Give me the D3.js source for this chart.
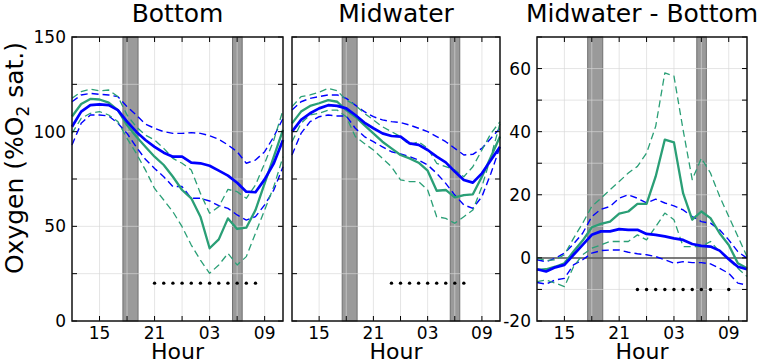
<!DOCTYPE html>
<html>
<head>
<meta charset="utf-8">
<script src="https://cdn.jsdelivr.net/npm/d3@7"></script>
<style>
  body { margin: 0; background: #fff; }
  svg { font-family: "DejaVu Sans", sans-serif; }
</style>
</head>
<body>
<svg id="chart" width="765" height="362"></svg>
<script>
// hours of the day, 12:00 to 11:00 next day (24+ = after midnight)
const hours = d3.range(12, 36);
const xTickHours = [15, 21, 27, 33];
const xTickLabels = ["15", "21", "03", "09"];
const twilight = [[17.55, 19.2], [29.5, 30.55]];

// Bottom
const bottomBlue      = [102.6,110.6,114,114.4,114,111.4,105.3,100,95.6,92,88.9,86.8,86.8,83.6,83.3,82,79.4,76.8,73,68.3,68,74.8,83.3,95.6];
const bottomBlueHi    = [115.8,119.4,120.2,119.7,119.4,118.5,113.2,108.8,104,101.8,100,99.1,99.1,99.5,99.1,97.9,96,93,89.4,83.3,85,89.4,97.4,107];
const bottomBlueLo    = [93,104.4,108.8,108.8,108.3,104.4,99.1,92,85.4,80.6,76.2,71,71,64.8,64.8,63.4,60.9,59.5,56,53.3,55.1,61.3,69.2,81.5];
const bottomGreen     = [108,114.6,117.3,117,115.3,111.4,103.5,97.4,92,86.8,82.4,76.2,69.2,64.8,55.1,38.4,43.1,54.2,48.6,49.3,58.6,72.7,86.8,100.9];
const bottomGreenHi   = [117.6,121.1,122.4,121.6,122,118.5,108.8,102.6,98.2,95.6,91.2,85.9,83.3,79.8,67.4,56.9,60.4,69.5,68.3,64.8,71.8,83.3,95.6,111.4];
const bottomGreenLo   = [99.1,107,109.7,110.6,108.8,105.3,96.5,88.6,79.8,70,63.9,57.7,49.8,40.1,32.2,25.2,29.6,35.7,29.6,34,46.3,58.6,71,86.8];
const bottomDots      = [21,22,23,24,25,26,27,28,29,30,31,32];

// Midwater
const midBlue         = [100,106.2,109.7,112.3,114,113.6,112.3,108.8,104.8,101.8,99.1,97.7,97.4,93.8,93,90.3,86.8,83.8,78.9,74.5,73.1,78,85,92];
const midBlueHi       = [111.4,115.8,117.6,118.5,119.4,119.4,117.6,114,110.6,107.9,106.2,105.3,104.8,103.5,101.8,100,97.4,94.7,91.2,87.7,88,91.2,96.5,101.8];
const midBlueLo       = [87.7,99.1,105.3,107.9,108.8,108.3,108.3,101.8,97.4,94.7,92,89.4,88.2,86.8,85,82.4,78,72.7,66.5,61.3,59.5,65.7,78,92];
const midGreen        = [104.4,110.6,113.6,115,116.7,115.8,111.4,107.9,103.5,99.1,94.7,91.2,87.7,85.9,83.6,79.4,68.8,69.2,65.3,66.5,66.9,76.2,86.8,97.4];
const midGreenHi      = [113.2,118.5,119.4,120.8,122.9,121.6,116.7,114,109.7,106.2,102.6,100,97.4,93,94.7,91.2,83.3,81.5,79.8,76.2,81.5,90.3,99.1,105.3];
const midGreenLo      = [94.7,104.4,108.8,109.7,111.4,111.4,107.9,97.4,93.8,90.3,85.9,81.5,74.5,73.6,73.6,69.2,55.1,54.2,51.6,55.1,58.6,71,86.8,104.4];
const midDots         = [23,24,25,26,27,28,29,30,31];

// Midwater - Bottom
const diffBlue        = [-3.6,-4.3,-3,-2.2,1,4.1,7.3,8.4,8.4,9.1,8.9,8.9,7.6,7.3,6.8,6.2,5.7,4.4,3.8,3.6,2.3,-0.4,-2.8,-3.6];
const diffBlueHi      = [-0.6,-1.2,-0.1,1.5,4.4,7.8,13.1,15.4,16.3,18.9,20,18.9,17.4,18.6,17.4,16.5,15.2,13.1,11.5,11,8.9,5.7,2,-0.1];
const diffBlueLo      = [-7.8,-8.3,-7,-6.5,-2.2,-0.6,1.5,2.3,2.5,2.5,1.8,1.3,1,0.4,-0.6,-1.7,-1.2,-1.5,-1.5,-1.9,-3.3,-4.9,-8,-8.6];
const diffGreen       = [-3.8,-3.6,-2.8,-1.7,2,5.5,9.7,10.8,11.5,14,14.7,17.1,17.1,25.8,37.5,36.6,20.5,12.1,14.7,12.6,7.8,4.1,-1.7,-3.3];
const diffGreenHi     = [-0.1,-0.8,-0.6,1,6.2,11,16.3,18.9,21.6,24.2,26.9,29,33.2,41.7,58.6,57.6,40.6,24.8,31.6,26.9,19.5,13.1,6.8,0.4];
const diffGreenLo     = [-7.5,-7,-8,-9.1,-2.8,1,3.1,4.1,5.2,5.2,5.2,7.3,5.7,9.9,14.2,12.1,3.6,3.6,3.6,5.2,2,-0.6,-3.3,-5.9];
const diffDots        = [23,24,25,26,27,28,29,30,31,33];

(function() {
    const svg = d3.select("#chart");
    const top = 37, bottom = 321;
    const blue = "#0000ff", green = "#2a9f76";

    const panels = [
        { title: "Bottom", left: 72, right: 283, domain: [0, 150], step: 25, labels: [0, 50, 100, 150],
          series: [bottomBlue, bottomBlueHi, bottomBlueLo, bottomGreen, bottomGreenHi, bottomGreenLo], dots: bottomDots, dotY: 20 },
        { title: "Midwater", left: 292, right: 500, domain: [0, 150], step: 25, labels: [],
          series: [midBlue, midBlueHi, midBlueLo, midGreen, midGreenHi, midGreenLo], dots: midDots, dotY: 20 },
        { title: "Midwater - Bottom", left: 537, right: 747, domain: [-20, 70], step: 10, labels: [-20, 0, 20, 40, 60],
          series: [diffBlue, diffBlueHi, diffBlueLo, diffGreen, diffGreenHi, diffGreenLo], dots: diffDots, dotY: -10, zero: true }
    ];

    panels.forEach(p => {
        const x = d3.scaleLinear().domain([12, 35]).range([p.left, p.right]);
        const y = d3.scaleLinear().domain(p.domain).range([bottom, top]);
        const g = svg.append("g");
        const yTicks = d3.range(p.domain[0], p.domain[1] + 0.01, p.step);
        const xTicks = d3.range(15, 35, 3);

        // twilight bars
        g.selectAll(".bar")
            .data(twilight)
            .enter().append("rect")
            .attr("x", d => x(d[0]))
            .attr("y", top)
            .attr("width", d => x(d[1]) - x(d[0]))
            .attr("height", bottom - top)
            .attr("fill", "#9a9a9a")
            .attr("stroke", "#707070")
            .attr("stroke-width", 1);

        // grid on top of bars
        g.selectAll(".vgrid")
            .data(xTicks)
            .enter().append("line")
            .attr("x1", d => x(d)).attr("x2", d => x(d))
            .attr("y1", top).attr("y2", bottom)
            .attr("stroke", "rgb(215,215,215)")
            .attr("stroke-opacity", 0.65);
        g.selectAll(".hgrid")
            .data(yTicks.slice(1, -1))
            .enter().append("line")
            .attr("x1", p.left).attr("x2", p.right)
            .attr("y1", d => y(d)).attr("y2", d => y(d))
            .attr("stroke", "rgb(215,215,215)")
            .attr("stroke-opacity", 0.65);

        if (p.zero) {
            g.append("line")
                .attr("x1", p.left).attr("x2", p.right)
                .attr("y1", y(0)).attr("y2", y(0))
                .attr("stroke", "#555")
                .attr("stroke-width", 1.5);
        }

        const line = d3.line().x((d, i) => x(hours[i])).y(d => y(d));
        const styles = [
            { c: blue, w: 2.7, dash: null },
            { c: blue, w: 1.4, dash: "7,4" },
            { c: blue, w: 1.4, dash: "7,4" },
            { c: green, w: 2.3, dash: null },
            { c: green, w: 1.3, dash: "7,4" },
            { c: green, w: 1.3, dash: "7,4" }
        ];
        // dashed first, then solids
        [1, 2, 4, 5, 3, 0].forEach(k => {
            g.append("path")
                .datum(p.series[k])
                .attr("d", line)
                .attr("fill", "none")
                .attr("stroke", styles[k].c)
                .attr("stroke-width", styles[k].w)
                .attr("stroke-dasharray", styles[k].dash)
                .attr("stroke-linejoin", "round");
        });

        g.selectAll(".dot")
            .data(p.dots)
            .enter().append("circle")
            .attr("cx", d => x(d))
            .attr("cy", y(p.dotY))
            .attr("r", 1.7)
            .attr("fill", "#000");

        // inward ticks on all sides
        const tl = 5;
        xTicks.forEach(t => {
            g.append("line").attr("x1", x(t)).attr("x2", x(t)).attr("y1", bottom).attr("y2", bottom - tl).attr("stroke", "#000");
            g.append("line").attr("x1", x(t)).attr("x2", x(t)).attr("y1", top).attr("y2", top + tl).attr("stroke", "#000");
        });
        yTicks.forEach(t => {
            g.append("line").attr("x1", p.left).attr("x2", p.left + tl).attr("y1", y(t)).attr("y2", y(t)).attr("stroke", "#000");
            g.append("line").attr("x1", p.right).attr("x2", p.right - tl).attr("y1", y(t)).attr("y2", y(t)).attr("stroke", "#000");
        });

        g.append("rect")
            .attr("x", p.left).attr("y", top)
            .attr("width", p.right - p.left).attr("height", bottom - top)
            .attr("fill", "none")
            .attr("stroke", "#111")
            .attr("stroke-width", 1.5);

        // labels
        g.selectAll(".xlab")
            .data(xTickHours)
            .enter().append("text")
            .attr("x", d => x(d))
            .attr("y", 339)
            .attr("text-anchor", "middle")
            .attr("font-size", 17)
            .text((d, i) => xTickLabels[i]);

        g.selectAll(".ylab")
            .data(p.labels)
            .enter().append("text")
            .attr("x", p.left - 6)
            .attr("y", d => y(d) + 6)
            .attr("text-anchor", "end")
            .attr("font-size", 17)
            .text(d => d);

        g.append("text")
            .attr("x", (p.left + p.right) / 2)
            .attr("y", 359)
            .attr("text-anchor", "middle")
            .attr("font-size", 22)
            .text("Hour");

        g.append("text")
            .attr("x", (p.left + p.right) / 2)
            .attr("y", 22)
            .attr("text-anchor", "middle")
            .attr("font-size", 25)
            .text(p.title);
    });

    const ylab = svg.append("text")
        .attr("transform", "translate(23,158) rotate(-90)")
        .attr("text-anchor", "middle")
        .attr("font-size", 25);
    ylab.append("tspan").text("Oxygen (%O");
    ylab.append("tspan").attr("font-size", 17).attr("dy", 6).text("2");
    ylab.append("tspan").attr("dy", -6).text(" sat.)");
})();
</script>
</body>
</html>
